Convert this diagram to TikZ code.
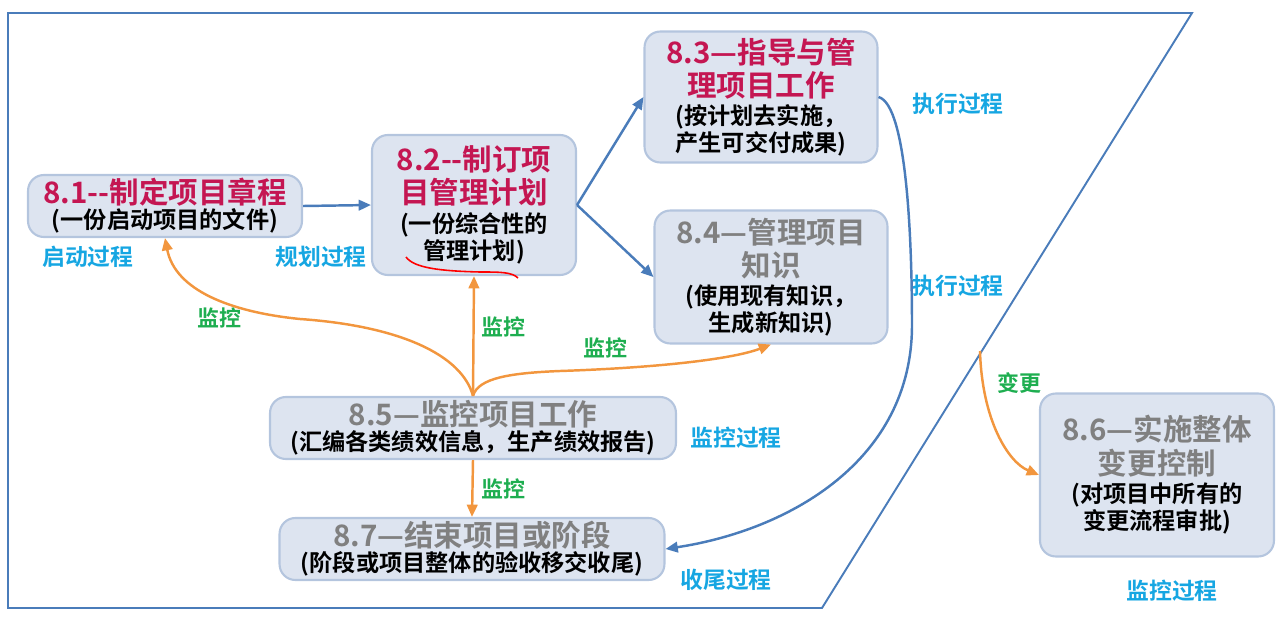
\documentclass[tikz,border=0pt]{standalone}
\usepackage{fontspec}
\usetikzlibrary{arrows.meta}
\IfFontExistsTF{Noto Sans CJK SC Bold}
  {\newfontfamily\cjk{Noto Sans CJK SC Bold}}
  {\newfontfamily\cjk{Noto Sans CJK SC}}
\definecolor{boxfill}{RGB}{221, 228, 240}
\definecolor{boxline}{RGB}{180, 197, 222}
\definecolor{titlered}{RGB}{196, 22, 82}
\definecolor{titlegray}{RGB}{128, 128, 128}
\definecolor{phasecyan}{RGB}{22, 166, 226}
\definecolor{ctrlgreen}{RGB}{30, 174, 80}
\definecolor{flowblue}{RGB}{74, 124, 186}
\definecolor{monorange}{RGB}{242, 150, 62}
\newcommand{\ttlred}[1]{{\color{titlered}\fontsize{16.8}{18.7}\selectfont #1}}
\newcommand{\ttlgray}[1]{{\color{titlegray}\fontsize{16.8}{18.7}\selectfont #1}}
\tikzset{
  procbox/.style={
    draw=boxline,
    line width=1.2pt,
    fill=boxfill,
    rounded corners=9pt,
    align=center,
    inner sep=0pt,
    font=\cjk\fontsize{13.2}{15.3}\selectfont
  },
  phase/.style={
    font=\cjk\fontsize{13}{15}\selectfont,
    text=phasecyan
  },
  ctrl/.style={
    font=\cjk\fontsize{12.5}{15}\selectfont,
    text=ctrlgreen
  },
  flow/.style={
    draw=flowblue,
    line width=1.4pt,
    -{Triangle[length=7pt,width=6pt]}
  },
  mon/.style={
    draw=monorange,
    line width=1.4pt,
    -{Triangle[length=7pt,width=6pt]}
  },
  frame/.style={
    draw=flowblue,
    line width=1.1pt
  }
}

\begin{document}
\begin{tikzpicture}[x=0.02cm, y=-0.02cm]
  \useasboundingbox (0,0) rectangle (1279,619);
  \draw[frame] (8,13) -- (1192,13) -- (822,608) -- (8,608) -- cycle;

  \node[procbox, minimum width=5.48cm, minimum height=1.24cm] (p81) at (165,206)
    {\ttlred{8.1--制定项目章程}\\[-1pt](一份启动项目的文件)};
  \node[procbox, minimum width=4.08cm, minimum height=2.80cm] (p82) at (474,205)
    {\ttlred{8.2--制订项}\\[2pt]\ttlred{目管理计划}\\[1pt](一份综合性的\\管理计划)};
  \node[procbox, minimum width=4.66cm, minimum height=2.62cm] (p83) at (761,97)
    {\ttlred{8.3—指导与管}\\[2pt]\ttlred{理项目工作}\\[1pt](按计划去实施，\\产生可交付成果)};
  \node[procbox, minimum width=4.66cm, minimum height=2.66cm] (p84) at (771,277)
    {\ttlgray{8.4—管理项目}\\[2pt]\ttlgray{知识}\\[1pt](使用现有知识，\\生成新知识)};
  \node[procbox, minimum width=8.12cm, minimum height=1.24cm] (p85) at (473,428)
    {\ttlgray{8.5—监控项目工作}\\[-1pt](汇编各类绩效信息，生产绩效报告)};
  \node[procbox, minimum width=7.70cm, minimum height=1.24cm] (p87) at (472,549)
    {\ttlgray{8.7—结束项目或阶段}\\[-1pt](阶段或项目整体的验收移交收尾)};
  \node[procbox, minimum width=4.68cm, minimum height=3.26cm] (p86) at (1157,475)
    {\ttlgray{8.6—实施整体}\\[2pt]\ttlgray{变更控制}\\[1pt](对项目中所有的\\变更流程审批)};

  % process groups
  \node[phase] (g1) at (88,257) {启动过程};
  \node[phase] (g2) at (321,257) {规划过程};
  \node[phase] (g3) at (958,104) {执行过程};
  \node[phase] (g4) at (958,286) {执行过程};
  \node[phase] (g5) at (736,438) {监控过程};
  \node[phase] (g6) at (726,580) {收尾过程};
  \node[phase] (g7) at (1172,591) {监控过程};

  \node[ctrl] (m1) at (219,318) {监控};
  \node[ctrl] (m2) at (503,327) {监控};
  \node[ctrl] (m3) at (605,348) {监控};
  \node[ctrl] (m4) at (503,489) {监控};
  \node[ctrl] (m5) at (1019,383) {变更};

  \coordinate (chg) at (980,351);

  \draw[flow] (p81.east) -- (p82.west);
  \draw[flow] (p82.east) -- (p83.west);
  \draw[flow] (p82.east) -- (p84.west);
  \draw[flow] (p83.east) .. controls (908,105) and (912,250) .. (912,325)
    .. controls (912,460) and (790,530) .. (p87.east);

  \draw[mon] (p85.north) .. controls (462,355) and (400,326) .. (300,319)
    .. controls (230,312) and (175,290) .. (p81.south);
  \draw[mon] (p85.north) -- (p82.south);
  \draw[mon] (p85.north) .. controls (478,378) and (510,373) .. (560,371)
    .. controls (650,368) and (730,360) .. (p84.south);
  \draw[mon] (p85.south) -- (p87.north);
  \draw[mon] (chg) .. controls (982,420) and (1008,462) .. (p86.west);

  % pen mark under the plan
  \draw[red, line width=0.9pt] (406,257) .. controls (414,268) and (440,271) .. (480,272)
    .. controls (500,272) and (512,272) .. (518,278);
\end{tikzpicture}
\end{document}
